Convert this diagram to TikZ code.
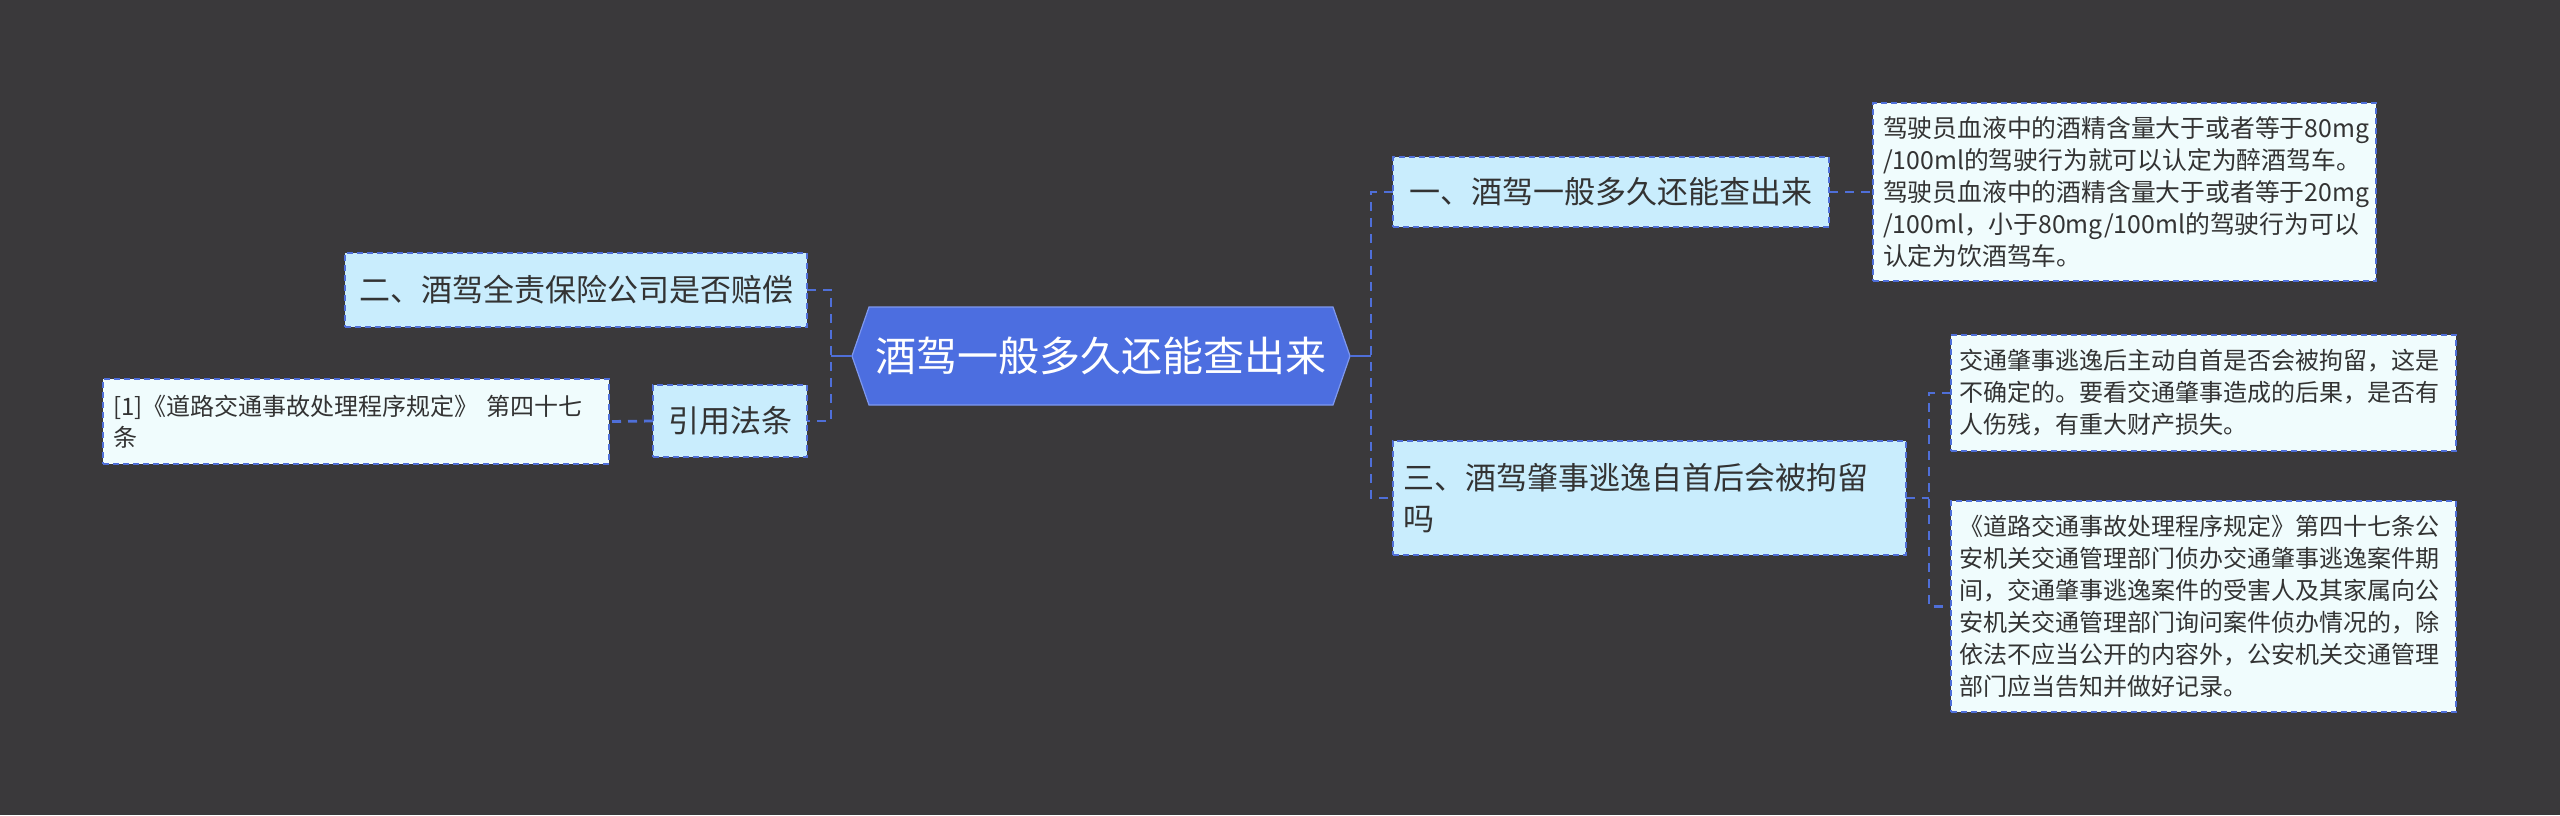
\documentclass[tikz,border=0pt]{standalone}
\usepackage{fontspec}
\setmainfont{Noto Sans CJK SC}
\usetikzlibrary{backgrounds}
\definecolor{mapbg}{HTML}{3A393B}
\definecolor{mapblue}{HTML}{4F6FD8}
\definecolor{rootblue}{HTML}{4C6EE0}
\definecolor{rootedge}{HTML}{7E98EE}
\definecolor{topicfill}{HTML}{C9EDFD}
\definecolor{notefill}{HTML}{F0FCFD}
\definecolor{mapgrey}{HTML}{333333}
\tikzset{every node/.style={inner sep=0pt,outer sep=0pt},
  rootnode/.style={text=white,font=\fontsize{20.5}{24}\selectfont,
    minimum width=232pt,minimum height=49pt},
  topic/.style={draw=mapblue,fill=topicfill,line width=1pt,
    dash pattern=on 3pt off 2pt,text=mapgrey,inner xsep=5pt,
    font=\fontsize{15.5}{20.5}\selectfont},
  note/.style={draw=mapblue,fill=notefill,line width=1pt,
    dash pattern=on 3pt off 2pt,text=mapgrey,inner xsep=5pt,align=left,
    font=\fontsize{12.4}{16}\selectfont},
  link/.style={draw=mapblue,line width=1.4pt,dash pattern=on 4.5pt off 3.5pt},
  stem/.style={draw=mapblue,line width=1.4pt}}

\begin{document}
\begin{tikzpicture}[x=0.5pt,y=-0.5pt]
  \useasboundingbox (0,0) rectangle (2560,815);
  \begin{scope}[on background layer]
    \fill[mapbg] (0,0) rectangle (2560,815);
  \end{scope}
  \node[rootnode] (root) at (1101,356) {酒驾一般多久还能查出来};
  \begin{scope}[on background layer]
    \draw[fill=rootblue,draw=rootedge,line width=0.6pt]
      (root.north west) -- (root.north east) -- ([xshift=8.5pt]root.east) coordinate (rootR)
      -- (root.south east) -- (root.south west) -- ([xshift=-8.5pt]root.west) coordinate (rootL)
      -- cycle;
  \end{scope}
  \node[topic,minimum width=218pt,minimum height=35pt] (n1) at (1611,192)
    {一、酒驾一般多久还能查出来};
  \node[topic,text width=246.5pt,minimum height=57pt,align=left] (n3) at (1649.5,498)
    {三、酒驾肇事逃逸自首后会被拘留\\吗};
  \node[topic,minimum width=231pt,minimum height=37pt] (n2) at (576,290)
    {二、酒驾全责保险公司是否赔偿};
  \node[topic,minimum width=77pt,minimum height=36pt] (cite) at (730,421) {引用法条};
  \node[note,text width=243pt,minimum height=42.5pt,font=\fontsize{12}{15.5}\selectfont]
    (ref1) at (356,421.5) {[1]《道路交通事故处理程序规定》 第四十七\\条};
  \node[note,text width=241.5pt,minimum height=89pt] (d1) at (2124.5,192)
    {驾驶员血液中的酒精含量大于或者等于80mg\\/100ml的驾驶行为就可以认定为醉酒驾车。\\
    驾驶员血液中的酒精含量大于或者等于20mg\\/100ml，小于80mg/100ml的驾驶行为可以\\
    认定为饮酒驾车。};
  \node[note,text width=244.5pt,inner xsep=4pt,minimum height=58pt,
    font=\fontsize{12}{16}\selectfont] (d2) at (2203.5,393)
    {交通肇事逃逸后主动自首是否会被拘留，这是\\不确定的。要看交通肇事造成的后果，是否有\\
    人伤残，有重大财产损失。};
  \node[note,text width=244.5pt,inner xsep=4pt,minimum height=105.5pt,
    font=\fontsize{12}{16}\selectfont] (d3) at (2203.5,606.5)
    {《道路交通事故处理程序规定》第四十七条公\\安机关交通管理部门侦办交通肇事逃逸案件期\\
    间，交通肇事逃逸案件的受害人及其家属向公\\安机关交通管理部门询问案件侦办情况的，除\\
    依法不应当公开的内容外，公安机关交通管理\\部门应当告知并做好记录。};
  \coordinate (busL) at (831,356);
  \coordinate (busR) at (1371,356);
  \coordinate (bus3) at (1929,498);
  \draw[stem] (rootR) -- (busR);
  \draw[stem] (rootL) -- (busL);
  \draw[link] (n1.west) -| (busR) |- (n3.west);
  \draw[link] (n2.east) -| (busL) |- (cite.east);
  \draw[link] (n1.east) -- (d1.west);
  \draw[link] (n3.east) -- (bus3);
  \draw[link] (d2.west) -| (bus3) |- (d3.west);
  \draw[link] (cite.west) -- (ref1.east);
\end{tikzpicture}
\end{document}
